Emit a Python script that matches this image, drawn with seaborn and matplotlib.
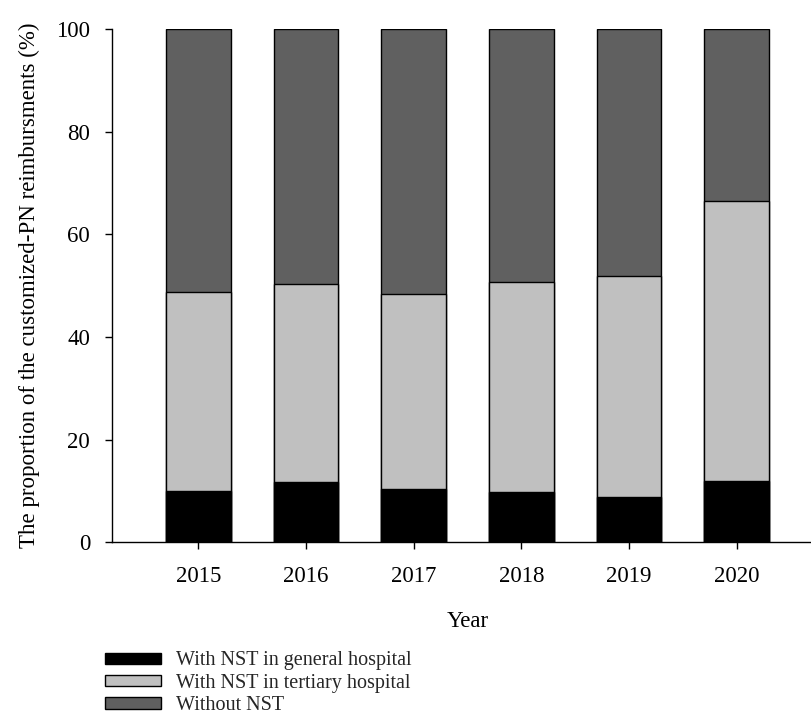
import matplotlib
matplotlib.use("Agg")
import matplotlib.pyplot as plt
import seaborn as sns
import pandas as pd
import numpy as np

# ---- data ----
years = ["2015", "2016", "2017", "2018", "2019", "2020"]
general = [10.1, 11.7, 10.4, 9.75, 8.8, 12.0]      # With NST in general hospital
tertiary = [38.6, 38.6, 38.0, 40.9, 43.15, 54.5]   # With NST in tertiary hospital
without = [51.3, 49.7, 51.6, 49.35, 48.05, 33.5]   # Without NST
labels = ["With NST in general hospital", "With NST in tertiary hospital", "Without NST"]
colors = ["#000000", "#c0c0c0", "#606060"]

df = pd.DataFrame({"Year": years, "general": general, "tertiary": tertiary, "without": without})
df["cum1"] = df["general"]
df["cum2"] = df["general"] + df["tertiary"]
df["cum3"] = df["cum2"] + df["without"]

sns.set_theme(style="ticks")
plt.rcParams["font.family"] = ["Liberation Serif", "DejaVu Serif"]

fig = plt.figure(figsize=(8.12, 7.27), dpi=100)
ax = fig.add_axes([0.1383, 0.2539, 0.8748, 0.7063])

for col, c in [("cum3", colors[2]), ("cum2", colors[1]), ("cum1", colors[0])]:
    sns.barplot(data=df, x="Year", y=col, color=c, width=0.6, edgecolor="black",
                linewidth=1.0, saturation=1, ax=ax, errorbar=None)

ax.set_xlim(-0.8, 5.8)
ax.set_ylim(0, 100)
ax.set_yticks([0, 20, 40, 60, 80, 100])
for s in ["top", "right"]:
    ax.spines[s].set_visible(False)
for s in ["left", "bottom"]:
    ax.spines[s].set_linewidth(1.0)
    ax.spines[s].set_color("black")
ax.tick_params(axis="both", direction="out", length=5, width=1.0, colors="black",
               labelsize=16.5)
ax.tick_params(axis="x", pad=12)
ax.tick_params(axis="y", pad=11)

ax.set_xlabel("Year", fontsize=16.5, color="black")
ax.set_ylabel("The proportion of the customized-PN reimbursments (%)", fontsize=16.5, color="black")
ax.xaxis.label.set_va("center")
ax.yaxis.label.set_va("center")
ax.xaxis.set_label_coords(0.5, -0.1544)
ax.yaxis.set_label_coords(-0.1173, 0.5)

cont = ax.containers
handles = [cont[2], cont[1], cont[0]]
fig.legend(handles, labels, loc="upper left", bbox_to_anchor=(0.1293, 0.104),
           frameon=False, fontsize=14.5, handlelength=2.78, handleheight=0.5,
           handletextpad=0.75, labelspacing=0.17, borderpad=0, borderaxespad=0)

fig.savefig("out.png", dpi=100)
